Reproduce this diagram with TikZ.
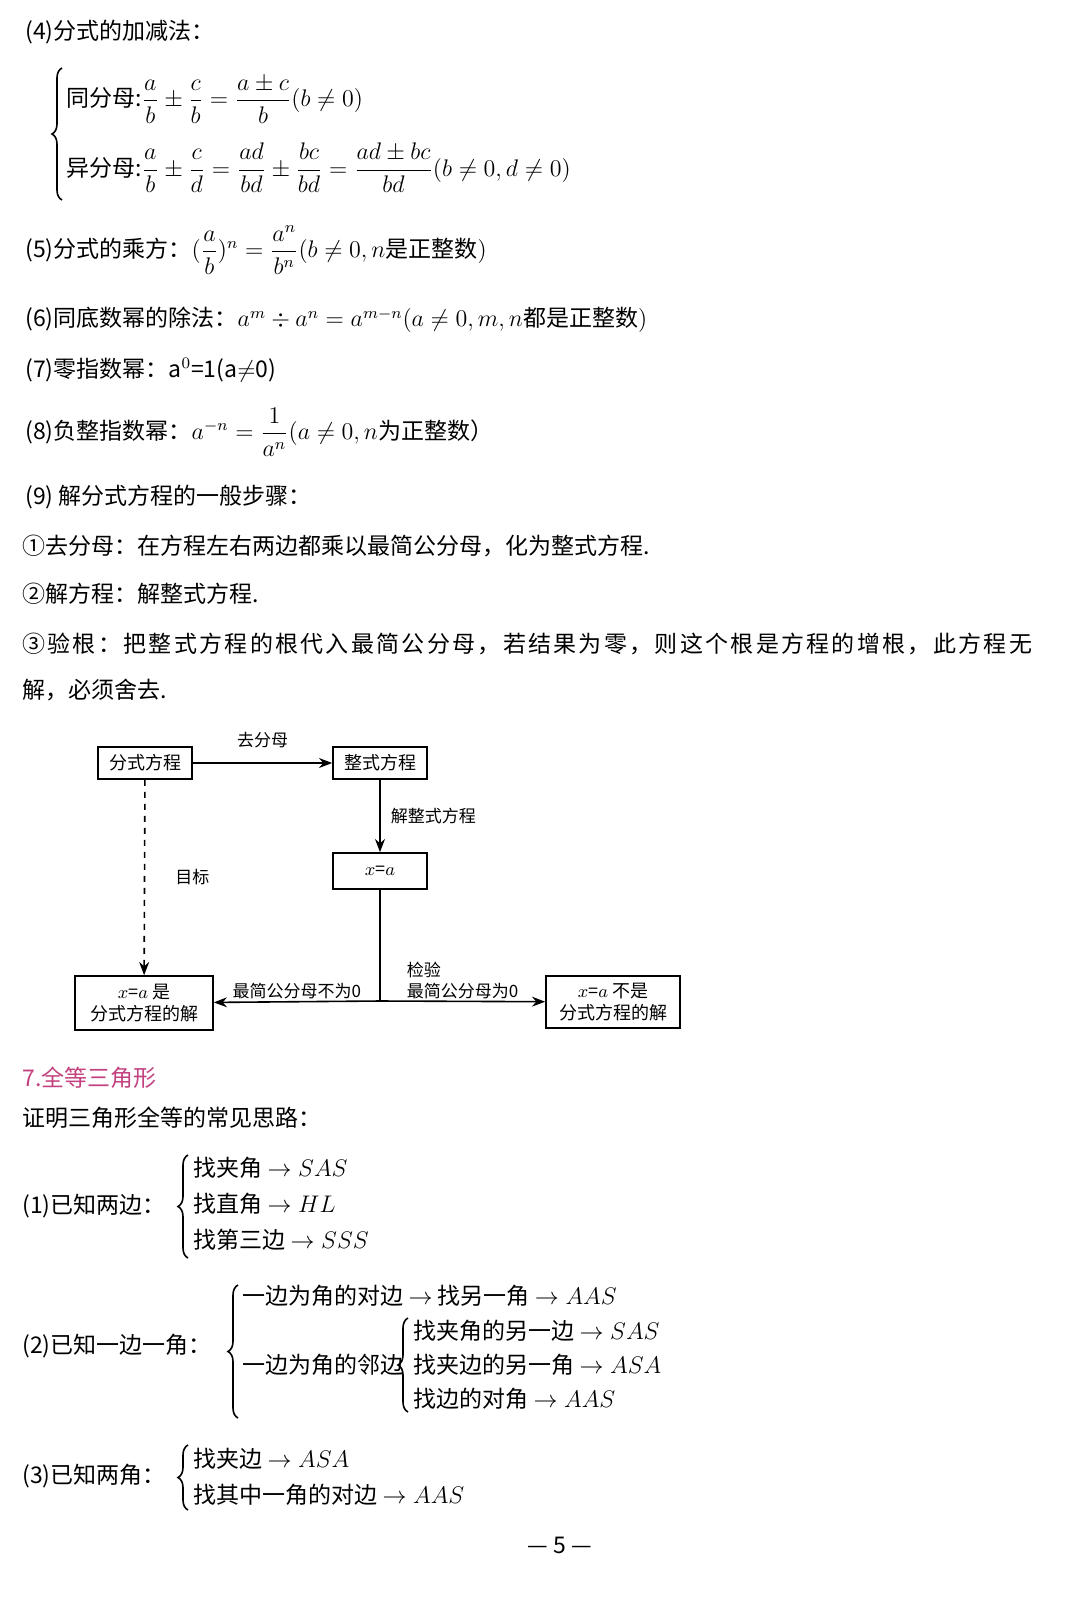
\documentclass[tikz,border=0pt]{standalone}
\usepackage{amsmath}
\usepackage{fontspec}
\setmainfont{Noto Sans CJK SC}
\usetikzlibrary{positioning, arrows.meta, calc, decorations.pathreplacing}
\definecolor{titlepink}{HTML}{C2417E}

\begin{document}
\begin{tikzpicture}[x=0.5pt, y=-0.5pt,
    line/.style={anchor=west, inner sep=0pt, font=\fontsize{11.5}{14}\selectfont},
    flow/.style={draw, thick, align=center, inner sep=2pt, font=\fontsize{9}{11}\selectfont},
    lab/.style={inner sep=1pt, font=\fontsize{8.5}{10.5}\selectfont},
    bra/.style={decorate, decoration={brace, amplitude=5pt, mirror}, thick},
    >=Stealth
]
    \useasboundingbox (0,0) rectangle (1080,1601);

    % --- fractions ---
    \node[line] (t4) at (25,32) {(4)分式的加减法：};
    \draw[bra] (62,68) -- (62,200);
    \node[line] (same) at (66,100) {同分母:$\dfrac{a}{b}\pm\dfrac{c}{b}=\dfrac{a\pm c}{b}(b\neq 0)$};
    \node[line] (diff) at (66,168) {异分母:$\dfrac{a}{b}\pm\dfrac{c}{d}=\dfrac{ad}{bd}\pm\dfrac{bc}{bd}=\dfrac{ad\pm bc}{bd}(b\neq 0,d\neq 0)$};
    \node[line] (t5) at (25,250) {(5)分式的乘方：$(\dfrac{a}{b})^n=\dfrac{a^n}{b^n}(b\neq 0,n$是正整数$)$};
    \node[line] (t6) at (25,320) {(6)同底数幂的除法：$a^m\div a^n=a^{m-n}(a\neq 0,m,n$都是正整数$)$};
    \node[line] (t7) at (25,370) {(7)零指数幂：a$^0$=1(a$\neq$0)};
    \node[line] (t8) at (25,432) {(8)负整指数幂：$a^{-n}=\dfrac{1}{a^n}(a\neq 0,n$为正整数）};
    \node[line] (t9) at (25,497) {(9) 解分式方程的一般步骤：};
    \node[line] (s1) at (22,546) {①去分母：在方程左右两边都乘以最简公分母，化为整式方程.};
    \node[line] (s2) at (22,594) {②解方程：解整式方程.};
    \node[line, font=\fontsize{11.5}{14}\selectfont\addfontfeature{LetterSpace=10}] (s3) at (22,644) {③验根：把整式方程的根代入最简公分母，若结果为零，则这个根是方程的增根，此方程无};
    \node[line] (s3b) at (22,690) {解，必须舍去.};

    % --- flow chart ---
    \node[flow, minimum width=47pt, minimum height=16pt] (frac) at (145,763) {分式方程};
    \node[flow, minimum width=47pt, minimum height=16pt] (whole) at (380,763) {整式方程};
    \node[flow, minimum width=47pt, minimum height=18pt] (root) at (380,871) {$x$=$a$};
    \node[flow, minimum width=69pt, minimum height=27pt] (yes) at (144,1003) {$x$=$a$ 是\\分式方程的解};
    \node[flow, minimum width=67pt, minimum height=26pt] (no) at (613,1002) {$x$=$a$ 不是\\分式方程的解};
    \coordinate (split) at (380,1001);
    \draw[thick, ->] (frac) -- node[lab, above=6pt] {去分母} (whole);
    \draw[thick, ->] (whole) -- node[lab, right=4pt] {解整式方程} (root);
    \draw[thick, dashed, ->] (frac) -- node[lab, right=14pt] {目标} (yes);
    \draw[thick] (root) -- (split);
    \draw[thick, ->] (split) -- node[lab, above] {最简公分母不为0} (yes);
    \draw[thick, ->] (split) -- node[lab, above, align=left] {检验\\最简公分母为0} (no);

    % --- congruent triangles ---
    \node[line, text=titlepink] (t7c) at (22,1078) {7.全等三角形};
    \node[line] (idea) at (22,1118) {证明三角形全等的常见思路：};

    \node[line] (c1) at (22,1206) {(1)已知两边：};
    \draw[bra] (188,1155) -- (188,1258);
    \node[line] (c1a) at (193,1168) {找夹角 $\rightarrow SAS$};
    \node[line] (c1b) at (193,1204) {找直角 $\rightarrow HL$};
    \node[line] (c1c) at (193,1240) {找第三边 $\rightarrow SSS$};

    \node[line] (c2) at (22,1346) {(2)已知一边一角：};
    \draw[bra] (238,1285) -- (238,1418);
    \node[line] (c2a) at (242,1296) {一边为角的对边 $\rightarrow$ 找另一角 $\rightarrow AAS$};
    \node[line] (c2b) at (242,1365) {一边为角的邻边};
    \draw[bra] (408,1318) -- (408,1412);
    \node[line] (c2c) at (413,1331) {找夹角的另一边 $\rightarrow SAS$};
    \node[line] (c2d) at (413,1365) {找夹边的另一角 $\rightarrow ASA$};
    \node[line] (c2e) at (413,1399) {找边的对角 $\rightarrow AAS$};

    \node[line] (c3) at (22,1476) {(3)已知两角：};
    \draw[bra] (188,1445) -- (188,1510);
    \node[line] (c3a) at (193,1459) {找夹边 $\rightarrow ASA$};
    \node[line] (c3b) at (193,1495) {找其中一角的对边 $\rightarrow AAS$};

    \node[line, anchor=center] (page) at (560,1545) {— 5 —};
\end{tikzpicture}
\end{document}
